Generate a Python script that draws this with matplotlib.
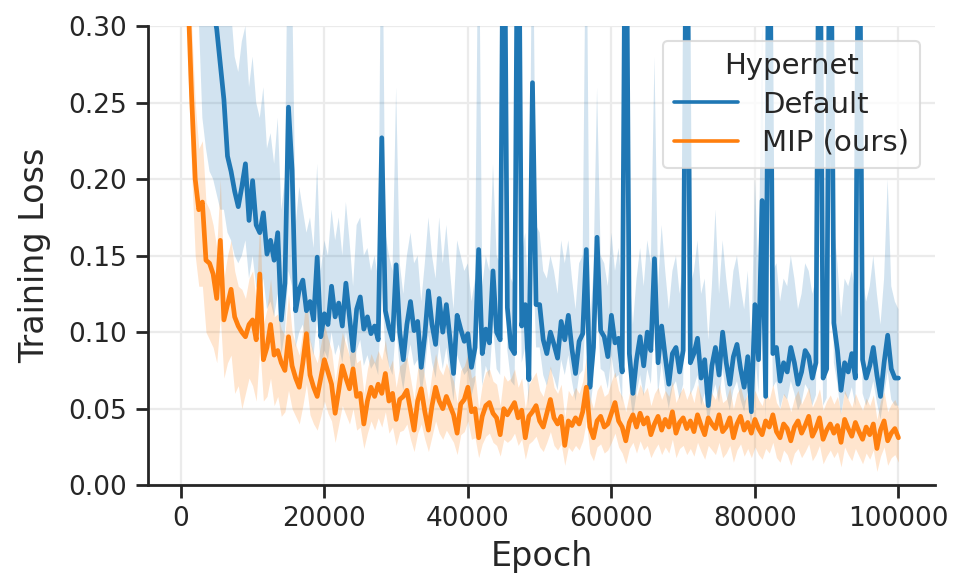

# - - - - - - - - - - - - - - - - - - - - - - - - - - - - - - - - -
# IMPORTS
# - - - - - - - - - - - - - - - - - - - - - - - - - - - - - - - - -

import numpy as np
import matplotlib
matplotlib.use('Agg')
import matplotlib.pyplot as plt
import seaborn as sns


# - - - - - - - - - - - - - - - - - - - - - - - - - - - - - - - - -
# DATA -- loss in units of 1e-3, one value every 500 epochs
#         (1000 .. 100000)
# - - - - - - - - - - - - - - - - - - - - - - - - - - - - - - - - -

FIRST_EPOCH = 1000
LAST_EPOCH = 100000
EPOCH_STEP = 500

default_mean = [
    480, 450, 420, 395, 370, 350, 330, 312, 298, 275,
    252, 215, 205, 192, 182, 195, 210, 173, 199, 170,
    165, 178, 151, 160, 147, 165, 108, 132, 247, 206,
    114, 128, 134, 114, 120, 108, 149, 97, 112, 105,
    130, 110, 119, 104, 132, 110, 88, 115, 123, 102,
    110, 99, 104, 95, 227, 114, 103, 95, 144, 100,
    82, 105, 120, 101, 107, 77, 98, 127, 105, 92,
    122, 100, 118, 96, 73, 111, 102, 94, 99, 77,
    90, 154, 86, 102, 93, 140, 100, 95, 450, 116,
    90, 86, 450, 104, 118, 69, 263, 118, 118, 95,
    86, 100, 92, 83, 107, 95, 111, 89, 73, 94,
    99, 154, 64, 90, 162, 101, 97, 84, 111, 93,
    96, 74, 450, 86, 60, 82, 97, 78, 100, 88,
    148, 80, 104, 84, 66, 86, 90, 74, 88, 450,
    80, 86, 96, 70, 82, 52, 78, 90, 72, 100,
    80, 66, 84, 92, 76, 64, 84, 48, 118, 82,
    186, 58, 450, 86, 90, 68, 80, 74, 90, 80,
    66, 74, 88, 84, 70, 80, 450, 70, 76, 450,
    106, 88, 62, 80, 74, 86, 70, 450, 82, 70,
    78, 90, 72, 58, 80, 98, 76, 70, 70,
]

default_hi = [
    600, 580, 560, 540, 520, 500, 480, 460, 440, 420,
    330, 300, 310, 280, 270, 290, 300, 260, 280, 250,
    240, 260, 220, 230, 210, 240, 180, 200, 400, 330,
    170, 195, 180, 165, 175, 155, 210, 140, 160, 150,
    180, 160, 175, 150, 185, 160, 130, 170, 175, 150,
    155, 140, 150, 135, 420, 165, 150, 140, 260, 145,
    125, 150, 165, 145, 150, 120, 145, 175, 150, 135,
    175, 145, 170, 140, 115, 160, 150, 140, 145, 120,
    135, 400, 130, 150, 140, 210, 150, 145, 600, 165,
    135, 130, 600, 150, 165, 110, 400, 170, 165, 140,
    135, 150, 140, 125, 160, 145, 160, 135, 115, 145,
    150, 400, 105, 140, 260, 150, 145, 130, 165, 140,
    155, 125, 600, 140, 105, 135, 155, 130, 160, 145,
    280, 130, 170, 140, 115, 140, 150, 125, 145, 600,
    130, 140, 160, 125, 135, 95, 130, 180, 125, 160,
    135, 115, 140, 150, 130, 115, 140, 90, 200, 135,
    300, 105, 600, 140, 145, 120, 135, 130, 150, 135,
    115, 125, 145, 140, 125, 135, 600, 120, 130, 600,
    170, 145, 110, 135, 130, 140, 125, 600, 135, 120,
    130, 150, 125, 105, 135, 200, 130, 120, 115,
]

default_lo = [
    400, 360, 330, 305, 240, 220, 205, 200, 190, 180,
    180, 165, 160, 150, 145, 150, 160, 135, 150, 130,
    125, 135, 115, 120, 110, 125, 85, 100, 140, 130,
    90, 100, 105, 90, 95, 85, 110, 78, 88, 82,
    100, 85, 92, 80, 100, 85, 68, 88, 95, 78,
    85, 76, 80, 72, 130, 88, 78, 72, 105, 76,
    62, 80, 92, 78, 82, 58, 75, 98, 80, 70,
    92, 76, 90, 72, 55, 85, 78, 72, 75, 58,
    68, 110, 65, 78, 70, 105, 76, 72, 250, 88,
    68, 65, 250, 80, 90, 52, 160, 90, 90, 72,
    65, 76, 70, 62, 82, 72, 85, 68, 55, 72,
    75, 115, 48, 68, 120, 76, 74, 63, 85, 70,
    72, 54, 250, 64, 44, 60, 72, 58, 76, 66,
    110, 59, 80, 62, 50, 64, 68, 56, 66, 250,
    59, 64, 72, 52, 60, 38, 57, 66, 54, 76,
    59, 49, 62, 68, 56, 48, 62, 35, 88, 60,
    140, 43, 250, 64, 68, 50, 59, 56, 68, 60,
    49, 54, 66, 62, 52, 59, 250, 52, 57, 250,
    80, 66, 46, 60, 56, 64, 52, 250, 60, 52,
    58, 68, 54, 43, 59, 74, 56, 52, 52,
]

mip_mean = [
    320, 254, 200, 180, 185, 147, 145, 138, 122, 160,
    108, 118, 128, 110, 104, 100, 97, 105, 108, 95,
    138, 82, 90, 105, 85, 88, 80, 75, 97, 78,
    70, 64, 80, 99, 72, 64, 58, 70, 82, 74,
    66, 47, 62, 78, 70, 63, 76, 58, 60, 40,
    55, 64, 58, 66, 60, 73, 55, 60, 43, 56,
    58, 62, 49, 36, 55, 63, 48, 36, 52, 64,
    55, 50, 58, 52, 46, 34, 53, 56, 64, 48,
    50, 31, 45, 52, 54, 47, 44, 33, 50, 46,
    50, 54, 44, 49, 31, 45, 48, 52, 42, 38,
    47, 56, 44, 40, 45, 26, 42, 39, 44, 40,
    48, 64, 38, 31, 42, 45, 38, 40, 47, 54,
    42, 38, 29, 41, 46, 38, 47, 40, 44, 33,
    40, 45, 36, 43, 38, 48, 34, 41, 44, 37,
    42, 35, 46, 39, 33, 44, 40, 37, 46, 35,
    38, 44, 31, 40, 45, 36, 41, 34, 43, 37,
    33, 42, 38, 46, 35, 31, 40, 37, 29, 38,
    42, 34, 39, 45, 32, 37, 44, 30, 36, 40,
    34, 39, 28, 43, 37, 32, 41, 35, 30, 38,
    33, 40, 24, 36, 42, 29, 34, 37, 31,
]

mip_hi = [
    380, 300, 250, 220, 225, 185, 180, 170, 155, 200,
    135, 150, 160, 140, 130, 128, 122, 135, 140, 120,
    175, 105, 115, 135, 110, 112, 102, 98, 125, 100,
    92, 85, 102, 125, 95, 86, 80, 92, 105, 96,
    88, 68, 84, 100, 92, 84, 98, 80, 82, 60,
    76, 86, 80, 88, 82, 95, 76, 82, 64, 78,
    80, 84, 70, 56, 76, 85, 70, 56, 74, 86,
    76, 72, 80, 74, 68, 54, 75, 78, 86, 70,
    72, 50, 66, 74, 76, 68, 66, 52, 72, 68,
    70, 76, 64, 70, 50, 66, 70, 74, 62, 58,
    68, 78, 64, 60, 66, 44, 62, 58, 64, 60,
    68, 84, 58, 50, 62, 66, 58, 60, 68, 74,
    62, 58, 48, 60, 66, 58, 66, 60, 64, 52,
    60, 64, 56, 62, 58, 68, 54, 60, 64, 56,
    62, 54, 66, 58, 52, 64, 60, 56, 66, 54,
    56, 64, 50, 60, 64, 55, 60, 52, 62, 56,
    52, 62, 56, 66, 54, 50, 60, 56, 48, 57,
    62, 53, 58, 64, 51, 56, 63, 49, 55, 59,
    53, 58, 47, 62, 56, 51, 60, 54, 49, 57,
    52, 59, 43, 55, 61, 48, 53, 56, 50,
]

mip_lo = [
    270, 205, 150, 130, 130, 100, 95, 90, 80, 110,
    70, 80, 85, 60, 65, 50, 60, 70, 65, 55,
    90, 55, 58, 70, 52, 58, 45, 48, 62, 50,
    45, 40, 52, 66, 46, 40, 36, 45, 55, 47,
    42, 28, 40, 52, 46, 40, 50, 36, 38, 24,
    34, 42, 36, 44, 38, 48, 34, 38, 26, 35,
    36, 40, 30, 22, 34, 40, 30, 22, 32, 42,
    34, 30, 36, 32, 28, 20, 33, 35, 42, 30,
    31, 18, 27, 32, 34, 28, 26, 19, 30, 28,
    30, 34, 26, 30, 17, 27, 29, 32, 25, 22,
    28, 35, 26, 23, 27, 13, 25, 22, 26, 23,
    29, 42, 21, 16, 25, 27, 21, 23, 28, 34,
    25, 21, 14, 24, 28, 21, 29, 23, 26, 18,
    23, 27, 20, 25, 21, 30, 18, 24, 26, 20,
    24, 19, 28, 22, 17, 26, 23, 20, 28, 18,
    21, 26, 15, 23, 27, 19, 24, 18, 25, 20,
    17, 24, 21, 28, 18, 15, 23, 20, 13, 21,
    24, 18, 22, 27, 16, 20, 26, 14, 19, 23,
    18, 22, 12, 25, 20, 16, 24, 19, 14, 21,
    17, 23, 9, 19, 25, 13, 18, 20, 15,
]

SERIES_NAMES = ['Default', 'MIP (ours)']
LEGEND_TITLE = 'Hypernet'
X_TICKS = [0, 20000, 40000, 60000, 80000, 100000]
Y_TICKS = [0.00, 0.05, 0.10, 0.15, 0.20, 0.25, 0.30]


# - - - - - - - - - - - - - - - - - - - - - - - - - - - - - - - - -
# PLOT
# - - - - - - - - - - - - - - - - - - - - - - - - - - - - - - - - -


def plot_data():
    """
    mean line + shaded band per hypernet, seaborn 'ticks' look
    """
    sns.set_theme(style='ticks', context='talk')
    plt.rcParams['font.family'] = ['DejaVu Sans']

    epochs = np.arange(FIRST_EPOCH, LAST_EPOCH + 1, EPOCH_STEP)
    colors = ['#1f77b4', '#ff7f0e']
    runs = [(default_mean, default_lo, default_hi),
            (mip_mean, mip_lo, mip_hi)]

    fig = plt.figure(figsize=(9.6, 5.79), dpi=100)
    ax = fig.add_axes([0.154, 0.162, 0.820, 0.793])

    ax.grid(True, color='#ebebeb', lw=1.6)
    ax.set_axisbelow(True)

    for name, (mean, lo, hi), color in zip(SERIES_NAMES, runs, colors):
        mean = np.array(mean) / 1000.0
        lo = np.array(lo) / 1000.0
        hi = np.array(hi) / 1000.0
        ax.plot(epochs, mean, color=color, lw=3.4, label=name, zorder=3)
        ax.fill_between(epochs, lo, hi, color=color, alpha=0.2, lw=0, zorder=2)

    ax.set_xlim(-4600, 105100)
    ax.set_ylim(0, 0.30)
    ax.set_xticks(X_TICKS)
    ax.set_yticks(Y_TICKS)
    ax.set_yticklabels(['%.2f' % y for y in Y_TICKS])

    ax.tick_params(axis='both', labelsize=19, length=9, width=2, pad=6,
                   colors='#262626')
    for side in ['left', 'bottom']:
        ax.spines[side].set_linewidth(2)
        ax.spines[side].set_color('#262626')
    sns.despine(ax=ax)

    ax.set_xlabel('Epoch', fontsize=24, color='#262626', labelpad=6)
    ax.set_ylabel('Training Loss', fontsize=24, color='#262626', labelpad=12)

    leg = ax.legend(title=LEGEND_TITLE, loc='upper right', fontsize=21,
                    title_fontsize=21, handlelength=2.2, labelspacing=0.35,
                    frameon=True)
    leg.get_frame().set_edgecolor('#d6d6d6')
    for line in leg.get_lines():
        line.set_linewidth(2.6)

    fig.savefig('out.png', dpi=100)


# - - - - - - - - - - - - - - - - - - - - - - - - - - - - - - - - -
# MAIN
# - - - - - - - - - - - - - - - - - - - - - - - - - - - - - - - - -


if __name__ == "__main__":

    plot_data()
